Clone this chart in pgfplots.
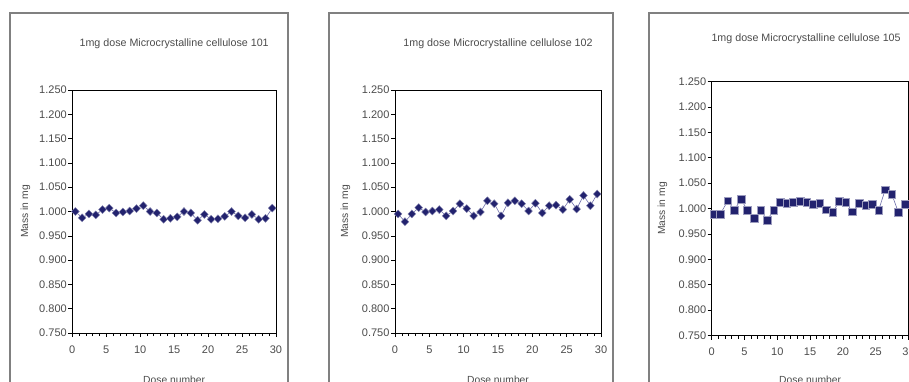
\documentclass[border=0pt]{standalone}
\usepackage{fontspec}
\setmainfont{Liberation Sans}
\usepackage{pgfplots}
\pgfplotsset{compat=1.18}
\definecolor{mk}{RGB}{34,34,110}
\definecolor{ln}{RGB}{110,110,170}
\definecolor{tx}{RGB}{75,75,75}
\definecolor{bx}{RGB}{128,128,128}
\pgfplotsset{
 mcc/.style={
  scale only axis, anchor=south west,
  xmin=0, xmax=30, ymin=0.75, ymax=1.25,
  xtick={0,5,10,15,20,25,30}, minor xtick={0,1,...,30},
  ytick={0.75,0.8,0.85,0.9,0.95,1,1.05,1.1,1.15,1.2,1.25},
  tick align=outside, tick pos=left,
  major tick length=4pt, minor tick length=3pt,
  every tick/.style={black, line width=0.6pt},
  axis line style={black, line width=0.8pt},
  tick label style={font=\fontsize{11}{13}\selectfont, text=tx},
  /pgf/number format/assume math mode=true,
  xticklabel style={yshift=-5pt},
  yticklabel style={xshift=2pt, /pgf/number format/.cd, fixed, fixed zerofill, precision=3},
  every axis y label/.style={at={(axis description cs:-0.23,0.5)}, rotate=90, anchor=center, font=\fontsize{10.3}{12}\selectfont, text=tx},
  every axis x label/.style={at={(axis description cs:0.5,0)}, anchor=base, yshift=-50pt, font=\fontsize{10.3}{12}\selectfont, text=tx},
  title style={at={(axis description cs:0.5,1)}, anchor=center, yshift=40.5pt, font=\fontsize{10.7}{12}\selectfont, text=tx},
  ylabel={Mass in mg}, xlabel={Dose number},
 },
 dia/.style={color=ln, line width=0.6pt, mark=diamond*, mark size=4pt, mark options={fill=mk, draw=mk!55!white, line width=0.4pt, xscale=1.3}},
 sqr/.style={color=ln, line width=0.6pt, mark=square*, mark size=3.8pt, mark options={fill=mk, draw=mk!45!white, line width=0.4pt}},
}
\begin{document}
\begin{tikzpicture}
\useasboundingbox (0,0) rectangle (909pt,-381pt);
\clip (0,0) rectangle (909pt,-381pt);
\draw[bx, line width=1.1pt] (10pt,-13pt) rectangle (288pt,-420pt);
\draw[bx, line width=1.1pt] (329pt,-13pt) rectangle (613pt,-420pt);
\draw[bx, line width=1.1pt] (649pt,-13pt) rectangle (1000pt,-420pt);

\begin{axis}[mcc, at={(72.3pt,-333pt)}, width=203.7pt, height=243pt,
  title={1mg dose Microcrystalline cellulose 101}]
\addplot[dia] coordinates {
(0.45,1.000) (1.45,0.987) (2.45,0.995) (3.45,0.993) (4.45,1.004)
(5.45,1.007) (6.45,0.997) (7.45,0.999) (8.45,1.001) (9.45,1.006)
(10.45,1.012) (11.45,1.000) (12.45,0.997) (13.45,0.984) (14.45,0.986)
(15.45,0.989) (16.45,1.000) (17.45,0.997) (18.45,0.982) (19.45,0.994)
(20.45,0.984) (21.45,0.985) (22.45,0.990) (23.45,1.000) (24.45,0.991)
(25.45,0.987) (26.45,0.994) (27.45,0.984) (28.45,0.986) (29.45,1.007)};
\end{axis}

\begin{axis}[mcc, at={(395pt,-333pt)}, width=206pt, height=243pt,
  every axis y label/.append style={at={(axis description cs:-0.24,0.5)}},
  title={1mg dose Microcrystalline cellulose 102}]
\addplot[dia] coordinates {
(0.45,0.995) (1.45,0.979) (2.45,0.995) (3.45,1.008) (4.45,0.999)
(5.45,1.001) (6.45,1.004) (7.45,0.991) (8.45,1.001) (9.45,1.016)
(10.45,1.006) (11.45,0.991) (12.45,0.999) (13.45,1.022) (14.45,1.016)
(15.45,0.991) (16.45,1.018) (17.45,1.022) (18.45,1.016) (19.45,1.001)
(20.45,1.017) (21.45,0.997) (22.45,1.012) (23.45,1.013) (24.45,1.004)
(25.45,1.025) (26.45,1.005) (27.45,1.033) (28.45,1.012) (29.45,1.036)};
\end{axis}

\begin{axis}[mcc, at={(711.7pt,-335.5pt)}, width=196.8pt, height=254pt,
  every axis y label/.append style={at={(axis description cs:-0.25,0.5)}},
  title style={yshift=-3.5pt, xshift=-4pt},
  every axis x label/.append style={yshift=2.5pt},
  title={1mg dose Microcrystalline cellulose 105}]
\addplot[sqr] coordinates {
(0.4,0.989) (1.3,0.989) (2.45,1.015) (3.45,0.997) (4.45,1.018)
(5.45,0.997) (6.45,0.981) (7.45,0.997) (8.45,0.977) (9.45,0.997)
(10.45,1.013) (11.45,1.010) (12.45,1.012) (13.45,1.014) (14.45,1.012)
(15.45,1.008) (16.45,1.010) (17.45,0.998) (18.45,0.993) (19.45,1.014)
(20.45,1.012) (21.45,0.994) (22.45,1.010) (23.45,1.006) (24.45,1.008)
(25.45,0.997) (26.45,1.037) (27.45,1.028) (28.45,0.993) (29.45,1.009)};
\end{axis}
\end{tikzpicture}
\end{document}
